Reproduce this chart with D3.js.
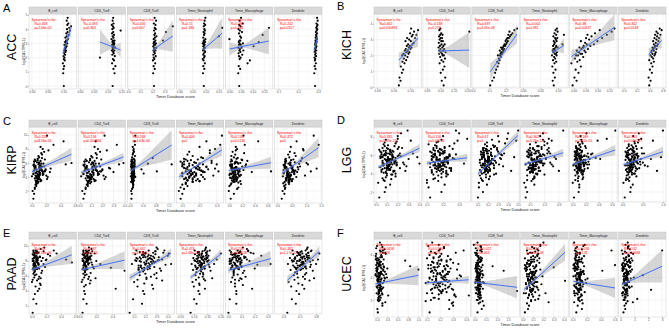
<!DOCTYPE html>
<html>
<head>
<meta charset="utf-8">
<script src="https://cdn.jsdelivr.net/npm/d3@7"></script>
<style>
  body { margin: 0; background: #fff; }
  svg { display: block; font-family: "Liberation Sans", Arial, sans-serif; }
</style>
</head>
<body>
<svg id="figure" width="669" height="328"></svg>
<script>
// shared facet titles and axis titles
const cellTypes = ["B_cell", "CD4_Tcell", "CD8_Tcell", "Timer_Neutrophil", "Timer_Macrophage", "Dendritic"];
const yTitle = "log2(CA1 TPM+1)";
const xTitle = "Timer Database score";

// ---------- ACC ----------
const accExpr = [0.0, 0.9, 1.2, 1.4, 1.6, 1.8, 1.9, 2.0, 2.1, 2.2,
  2.3, 2.4, 2.5, 2.5, 2.6, 2.7, 2.7, 2.8, 2.9, 2.9,
  3.0, 3.0, 3.1, 3.1, 3.2, 3.2, 3.3, 3.4, 3.5, 3.6,
  3.7, 3.8, 3.9, 4.0, 4.1, 4.2, 4.3, 4.4, 4.6, 4.8];
const accScore = [
  [.101, .099, .100, .102, .098, .104, .101, .103, .100, .105, .102, .106, .103, .108, .104, .107, .105, .110, .106, .103,
   .109, .112, .107, .105, .111, .108, .114, .106, .110, .116, .109, .113, .120, .111, .118, .124, .112, .115, .110, .113],
  [.118, .125, .121, .128, .116, .123, .119, .072, .126, .117, .122, .120, .124, .115, .119, .127, .118, .121, .123, .116,
   .120, .124, .117, .122, .119, .125, .114, .121, .118, .123, .116, .120, .147, .117, .122, .119, .115, .121, .118, .120],
  [.212, .205, .218, .209, .222, .203, .215, .210, .226, .207, .219, .213, .208, .224, .216, .211, .230, .206, .220, .214,
   .209, .228, .217, .212, .223, .286, .210, .219, .232, .215, .221, .310, .213, .226, .218, .366, .224, .211, .229, .217],
  [.093, .090, .095, .091, .097, .092, .089, .094, .096, .091, .093, .098, .090, .095, .092, .094, .097, .091, .093, .096,
   .089, .094, .098, .092, .095, .093, .099, .091, .150, .094, .096, .092, .097, .095, .163, .093, .098, .094, .096, .099],
  [.042, .038, .046, .040, .078, .088, .044, .048, .041, .055, .039, .047, .043, .060, .045, .038, .052, .104, .041, .049,
   .044, .058, .040, .126, .047, .043, .000, .050, .046, .143, .041, .054, .045, .039, .170, .048, .042, .057, .044, .050],
  [.285, .281, .287, .283, .289, .284, .286, .282, .290, .285, .288, .283, .291, .286, .284, .289, .287, .292, .285, .288,
   .290, .286, .293, .289, .287, .291, .294, .288, .292, .290, .295, .289, .293, .296, .291, .294, .297, .292, .298, .295]
];
const accXDomain = [[-0.009, 0.141], [-0.007, 0.165], [-0.008, 0.382], [-0.0115, 0.169], [-0.0174, 0.187], [0.08, 0.32]];
const accXTicks = [[0, .05, .1], [0, .05, .1, .15], [0, .1, .2, .3], [0, .05, .1, .15], [0, .05, .1, .15], [.1, .2, .3]];
const accYDomain = [-0.21, 5.07];
const accYTicks = [0, 1, 2, 3, 4, 5];
const accRho = ["0.458", "-0.093", "0.056", "0.15", "0.083", "0.242"];
const accP = ["2.66e-05", "0.363", "0.607", "0.186", "0.468", "0.0317"];
const accFit = [[2.3, 4.1], [3.1, 2.54], [2.54, 3.52], [2.54, 3.73], [2.6, 3.17], [2.54, 3.45]];
const accBand = [[0.15, 0.6], [0.15, 0.9], [0.15, 1.1], [0.15, 1.1], [0.12, 0.95], [0.2, 0.5]];

// ---------- KICH ----------
const kichExpr = [0.1, 0.4, 0.6, 0.9, 1.1, 1.3, 1.5, 1.6, 1.7, 1.8,
  1.9, 2.0, 2.0, 2.1, 2.1, 2.2, 2.2, 2.3, 2.3, 2.4,
  2.4, 2.5, 2.5, 2.6, 2.6, 2.7, 2.7, 2.8, 2.9, 2.9,
  3.0, 3.1, 3.1, 3.2, 3.3, 3.3, 3.4, 3.5, 3.6, 3.7];
const kichScore = [
  [.066, .071, .068, .075, .079, .072, .083, .077, .088, .081, .092, .076, .085, .095, .080, .089, .098, .084, .093, .101,
   .087, .096, .104, .090, .099, .107, .094, .111, .086, .102, .097, .115, .091, .105, .108, .119, .100, .112, .124, .103],
  [.112, .105, .118, .101, .109, .115, .097, .111, .104, .117, .099, .108, .113, .095, .106, .119, .102, .110, .096, .114,
   .100, .107, .093, .111, .098, .104, .116, .094, .103, .109, .097, .101, .106, .095, .108, .099, .103, .208, .096, .100],
  [.105, .118, .128, .135, .141, .150, .156, .148, .162, .158, .170, .165, .152, .175, .168, .180, .172, .163, .185, .177,
   .190, .182, .171, .195, .187, .200, .192, .206, .198, .212, .203, .218, .209, .225, .215, .232, .240, .222, .252, .268],
  [.088, .085, .091, .087, .093, .084, .090, .095, .086, .092, .089, .096, .083, .091, .094, .088, .097, .085, .092, .090,
   .087, .099, .093, .086, .095, .089, .113, .091, .096, .088, .094, .098, .092, .087, .117, .095, .090, .099, .093, .097],
  [-.005, .012, .003, .020, .008, .030, -.010, .015, .025, .005, .040, .018, .010, .035, .028, .050, .022, .013, .045, .032,
   .060, .038, .024, .070, .042, .055, .085, .048, .030, .100, .065, .052, .120, .075, .058, .140, .090, .160, .110, .172],
  [.39, .41, .38, .43, .40, .44, .42, .46, .39, .45, .43, .47, .41, .48, .44, .42, .49, .46, .43, .50,
   .45, .47, .44, .51, .48, .46, .52, .49, .45, .53, .50, .47, .54, .51, .48, .56, .52, .50, .58, .55]
];
const kichXDomain = [[-0.0094, 0.134], [0.0346, 0.2115], [-0.006, 0.281], [-0.006, 0.129], [-0.017, 0.183], [-0.077, 0.646]];
const kichXTicks = [[0, .05, .1], [.05, .1, .15, .2], [0, .1, .2], [0, .05, .1], [0, .05, .1, .15], [0, .2, .4, .6]];
const kichYDomain = [-0.06, 4.62];
const kichYTicks = [0, 1, 2, 3, 4];
const kichRho = ["0.402", "-0.138", "0.637", "-0.002", "0.38", "0.302"];
const kichP = ["0.000893", "0.274", "4.09e-08", "0.981", "0.00167", "0.0148"];
const kichFit = [[1.7, 3.1], [2.28, 2.34], [0.96, 3.36], [2.18, 2.62], [1.93, 3.78], [2.06, 2.95]];
const kichBand = [[0.15, 0.55], [0.15, 1.14], [0.18, 0.6], [0.12, 0.5], [0.14, 0.82], [0.15, 0.5]];

// ---------- KIRP ----------
const kirpExpr = [0.9, 4.6, 2.0, 5.3, 3.1, 6.2, 2.7, 4.1, 3.7, 5.6,
  1.6, 3.9, 5.0, 2.5, 4.4, 6.6, 3.3, 4.8, 2.9, 5.9,
  3.5, 2.3, 4.3, 5.4, 3.0, 4.9, 6.0, 3.8, 7.2, 4.2,
  4.0, 5.7, 3.2, 4.5, 6.4, 3.6, 5.1, 4.7, 7.6, 3.4,
  4.6, 3.9, 5.5, 4.1, 6.8, 5.0, 3.5, 5.8, 4.4, 8.3,
  5.2, 4.3, 6.1, 3.7, 5.6, 7.0, 4.8, 5.3, 9.1, 4.5,
  4.9, 6.5, 5.4, 4.0, 7.4, 5.9, 4.7, 6.3, 5.1, 8.0,
  5.5, 4.2, 6.7, 5.8, 7.8, 4.8, 6.0, 9.9, 5.2, 8.6,
  5.2, 3.6, 4.5, 6.0, 3.9, 5.5, 4.2, 6.3, 3.4, 4.8,
  5.8, 4.0, 5.1, 3.7, 6.5, 4.4, 5.3, 3.5, 4.9, 5.7,
  4.1, 6.1, 3.8, 5.0, 4.6, 3.3, 5.4, 4.3, 6.2, 4.7];
const kirpScore = [
  [.02, .05, .01, .04, .08, .03, .06, .00, .09, .05, .03, .07, .11, .04, .02, .08, .06, .10, .05, .13,
   .07, .04, .09, .12, .06, .03, .10, .08, .14, .05, .09, .11, .06, .15, .08, .12, .04, .10, .17, .07,
   .11, .08, .14, .06, .10, .19, .13, .09, .16, .12, .10, .15, .07, .21, .12, .09, .17, .13, .44, .11,
   .14, .18, .10, .22, .13, .16, .25, .12, .19, .15, .17, .20, .14, .47, .23, .18, .55, .21, .26, .30,
   .04, .08, .02, .10, .06, .03, .09, .05, .12, .07, .03, .10, .06, .11, .04, .08, .12, .05, .14, .02,
   .07, .10, .04, .13, .06, .09, .05, .11, .03, .15],
  [.03, .06, .02, .05, .09, .04, .07, .01, .10, .06, .04, .08, .12, .05, .03, .09, .07, .11, .06, .14,
   .08, .05, .10, .13, .07, .04, .11, .09, .15, .06, .10, .12, .07, .16, .09, .13, .05, .11, .18, .08,
   .12, .09, .15, .07, .11, .20, .14, .10, .17, .13, .11, .16, .08, .22, .13, .10, .18, .26, .14, .12,
   .15, .19, .11, .23, .14, .17, .30, .13, .20, .16, .18, .21, .15, .35, .24, .19, .39, .22, .27, .33,
   .05, .09, .03, .12, .07, .04, .10, .06, .13, .08, .04, .11, .07, .12, .05, .09, .14, .06, .15, .03,
   .08, .11, .05, .14, .07, .10, .06, .12, .04, .16],
  [.04, .07, .03, .06, .08, .05, .09, .02, .06, .10, .05, .08, .04, .09, .07, .11, .03, .06, .10, .05,
   .08, .06, .12, .04, .09, .07, .05, .11, .08, .06, .10, .07, .09, .13, .05, .08, .11, .06, .12, .09,
   .07, .11, .08, .14, .06, .10, .12, 1.29, .09, .08, .12, .09, .13, .07, .11, .15, .10, .08, .14, .42,
   .10, .13, .11, .16, .09, .55, .12, .14, .35, .11, .15, .12, .70, .14, .10, .83, .13, .16, .12, .15,
   .05, .07, .04, .09, .06, .03, .08, .05, .10, .07, .04, .08, .06, .09, .05, .07, .10, .06, .11, .04,
   .06, .09, .05, .10, .07, .08, .05, .09, .04, .12],
  [.09, .10, .08, .11, .12, .09, .13, .10, .11, .14, .10, .12, .15, .09, .13, .11, .16, .12, .10, .14,
   .13, .11, .15, .17, .12, .14, .10, .16, .13, .18, .14, .16, .12, .18, .15, .13, .19, .17, .14, .20,
   .16, .14, .19, .17, .21, .15, .18, .22, .16, .20, .18, .21, .17, .23, .19, .16, .22, .20, .24, .18,
   .21, .19, .24, .22, .26, .20, .23, .27, .25, .29, .24, .28, .22, .30, .26, .31, .27, .33, .29, .32,
   .12, .16, .10, .18, .14, .10, .15, .13, .20, .15, .11, .17, .13, .19, .12, .15, .18, .13, .21, .10,
   .14, .17, .12, .20, .14, .16, .13, .18, .11, .22],
  [.02, .05, -.01, .08, .03, .10, .00, .06, .12, .04, .07, .01, .09, .14, .03, .11, .06, .16, .02, .08,
   .05, .12, .00, .10, .18, .04, .13, .07, .09, .15, .11, .03, .14, .06, .20, .08, .12, .35, .05, .17,
   .09, .13, .02, .16, .07, .22, .11, .04, .14, .10, .06, .18, .12, .08, .25, .03, .15, .10, .45, .13,
   .08, .19, .11, .05, .23, .14, .09, .28, .16, .12, .20, .07, .13, .26, .10, .65, .17, .22, .15, .24,
   .03, .07, .01, .09, .05, .02, .08, .04, .11, .06, .02, .09, .05, .10, .03, .07, .11, .04, .13, .01,
   .06, .09, .03, .12, .05, .08, .04, .10, .02, .14],
  [.15, .22, .18, .25, .20, .28, .23, .19, .30, .26, .24, .32, .21, .27, .35, .29, .25, .33, .28, .38,
   .30, .26, .36, .31, .40, .34, .28, .42, .37, .32, .35, .44, .38, .33, .47, .40, .36, .50, .43, .39,
   .42, .37, .52, .45, .41, .55, .48, .44, .58, .46, .50, .45, .60, .53, .48, .63, .56, .52, .66, .58,
   .62, .55, .70, .65, .59, .75, .68, .80, .72, .88, .78, .95, .85, 1.05, .90, 1.15, 1.0, 1.25, 1.35, 1.42,
   .28, .38, .22, .45, .32, .24, .40, .30, .50, .36, .25, .42, .33, .46, .27, .37, .48, .31, .55, .21,
   .35, .44, .29, .52, .34, .41, .30, .47, .26, .58]
];
const kirpXDomain = [[-0.041, 0.62], [-0.018, 0.409], [-0.092, 1.385], [0.065, 0.341], [-0.063, 0.68], [-0.1, 1.535]];
const kirpXTicks = [[0, .2, .4, .6], [0, .1, .2, .3, .4], [0, .4, .8, 1.2], [.1, .2, .3], [0, .2, .4, .6], [0, .5, 1, 1.5]];
const kirpYDomain = [0.29, 11.14];
const kirpYTicks = [2, 4, 6, 8, 10];
const kirpRho = ["0.258", "0.194", "0.268", "0.406", "0.145", "0.472"];
const kirpP = ["8.56e-06", "0.000866", "4.63e-06", "0", "0.0136", "0"];
const kirpFit = [[4.76, 7.25], [4.63, 6.86], [4.9, 8.57], [4.04, 7.86], [4.93, 6.04], [4.5, 8.2]];
const kirpBand = [[0.25, 0.93], [0.2, 0.6], [0.2, 2.1], [0.15, 0.85], [0.18, 0.85], [0.18, 1.4]];

// ---------- LGG ----------
const lggExpr = [1.4, 5.2, 3.0, 6.1, 4.4, 5.7, 2.5, 4.9, 6.6, 3.8,
  4.2, 2.0, 5.5, 4.7, 6.3, 3.5, 5.0, 7.2, 4.0, 5.8,
  3.2, 5.6, 4.5, 6.8, 3.9, 5.1, 4.8, 6.0, 2.8, 5.4,
  5.3, 4.1, 6.4, 3.6, 5.9, 4.6, 7.0, 5.0, 4.3, 6.2,
  4.8, 6.5, 3.4, 5.7, 5.2, 7.4, 4.4, 6.0, 5.5, 3.7,
  5.8, 4.2, 6.1, 5.0, 7.7, 4.7, 5.5, 6.7, 3.9, 5.3,
  6.3, 5.1, 4.5, 6.9, 5.6, 4.0, 7.1, 5.9, 6.4, 4.9,
  5.4, 6.6, 4.6, 7.5, 5.2, 6.1, 8.1, 4.8, 5.7, 6.8,
  6.0, 5.0, 7.3, 5.6, 8.4, 6.2, 4.3, 7.8, 5.8, 8.7,
  3.3, 4.9, 5.3, 4.1, 6.5, 5.6, 7.0, 5.1, 6.2, 7.6,
  5.6, 4.4, 6.1, 5.0, 4.7, 6.5, 5.3, 5.9, 4.3, 5.5,
  6.2, 4.9, 5.2, 6.7, 4.6, 5.8, 5.1, 6.3, 4.5, 5.4,
  6.0, 4.8, 5.7, 4.2, 6.4, 5.0, 5.3, 4.6, 6.8, 5.9,
  4.9, 6.1, 5.5, 4.4, 5.8, 6.6, 5.2, 4.7, 6.0, 5.4];
const lggScore = [
  [.03, .06, .02, .08, .05, .04, .09, .07, .03, .10, .05, .08, .11, .04, .09, .06, .12, .07, .10, .05,
   .08, .12, .06, .10, .14, .07, .11, .09, .13, .06, .10, .07, .13, .09, .15, .11, .08, .12, .16, .10,
   .12, .09, .14, .11, .17, .08, .13, .15, .10, .18, .11, .16, .13, .19, .09, .14, .12, .20, .15, .10,
   .14, .17, .12, .21, .15, .18, .11, .23, .16, .19, .17, .13, .22, .19, .25, .15, .20, .28, .18, .24,
   .21, .26, .18, .30, .23, .34, .27, .20, .38, .29, .07, .10, .12, .09, .15, .13, .17, .40, .22, .32,
   .08, .12, .05, .15, .10, .07, .13, .04, .17, .09, .12, .06, .14, .11, .08, .16, .10, .05, .13, .18,
   .07, .11, .15, .09, .04, .13, .17, .10, .06, .20, .12, .08, .15, .10, .06, .13, .19, .11, .07, .14],
  [.12, .15, .10, .18, .13, .16, .11, .20, .14, .17, .13, .19, .16, .12, .21, .15, .18, .11, .22, .14,
   .17, .13, .20, .16, .23, .12, .19, .15, .21, .18, .14, .22, .17, .19, .13, .24, .16, .20, .18, .15,
   .21, .17, .14, .23, .19, .16, .25, .18, .13, .22, .16, .20, .24, .15, .19, .22, .17, .26, .14, .21,
   .18, .23, .16, .21, .27, .19, .15, .24, .20, .17, .22, .19, .25, .17, .23, .28, .20, .16, .26, .21,
   .24, .18, .27, .22, .30, .20, .25, .35, .23, .28, .10, .15, .19, .13, .21, .18, .24, .33, .20, .29,
   .16, .19, .14, .21, .17, .15, .20, .13, .22, .16, .19, .14, .20, .18, .15, .22, .17, .13, .19, .23,
   .15, .18, .21, .16, .12, .20, .22, .17, .14, .24, .18, .15, .21, .17, .14, .19, .23, .18, .15, .20],
  [.10, .12, .11, .13, .12, .14, .11, .13, .15, .12, .13, .15, .12, .14, .16, .13, .15, .17, .14, .16,
   .15, .14, .17, .16, .18, .15, .17, .16, .19, .18, .17, .16, .19, .18, .20, .17, .19, .21, .18, .20,
   .19, .18, .21, .20, .22, .19, .21, .23, .20, .22, .21, .20, .23, .22, .24, .21, .25, .23, .26, .22,
   .23, .25, .22, .26, .24, .28, .25, .27, .30, .26, .27, .29, .26, .31, .28, .33, .30, .35, .32, .29,
   .34, .31, .37, .33, .40, .36, .43, .39, .46, .50, .14, .17, .19, .20, .21, .24, .27, .23, .31, .48,
   .17, .19, .15, .21, .18, .16, .20, .14, .22, .17, .19, .15, .20, .18, .16, .21, .17, .14, .19, .23,
   .16, .18, .21, .17, .13, .20, .22, .18, .15, .24, .19, .16, .21, .17, .15, .19, .23, .18, .16, .20],
  [.07, .09, .06, .10, .08, .11, .07, .12, .09, .08, .10, .08, .12, .09, .11, .13, .07, .10, .14, .09,
   .11, .13, .09, .12, .15, .10, .14, .11, .13, .16, .12, .10, .14, .13, .16, .11, .15, .12, .17, .14,
   .13, .16, .12, .15, .18, .14, .11, .17, .15, .13, .15, .12, .17, .14, .19, .16, .13, .18, .20, .15,
   .16, .19, .14, .18, .21, .15, .20, .17, .23, .19, .18, .22, .16, .20, .24, .19, .17, .26, .21, .23,
   .20, .25, .22, .28, .19, .24, .30, .23, .27, .33, .08, .11, .13, .12, .15, .17, .16, .20, .22, .25,
   .11, .13, .09, .15, .12, .10, .14, .08, .16, .11, .13, .10, .14, .12, .10, .15, .12, .09, .13, .17,
   .10, .12, .15, .11, .08, .14, .16, .12, .10, .18, .13, .11, .15, .12, .09, .13, .17, .12, .10, .14],
  [.02, .05, .00, .08, .03, .06, .10, .01, .07, .04, .06, .09, .03, .12, .05, .08, .02, .11, .07, .14,
   .08, .04, .11, .06, .15, .09, .05, .13, .10, .07, .10, .13, .07, .16, .09, .12, .05, .18, .11, .08,
   .12, .06, .15, .10, .20, .08, .14, .11, .17, .09, .11, .16, .08, .22, .13, .10, .19, .07, .15, .24,
   .13, .09, .18, .12, .26, .15, .10, .21, .14, .17, .16, .11, .23, .14, .19, .28, .12, .17, .35, .20,
   .18, .25, .15, .42, .21, .30, .17, .52, .24, .65, .04, .09, .12, .08, .14, .11, .19, .16, .23, .38,
   .07, .10, .04, .13, .08, .06, .11, .03, .14, .07, .10, .05, .12, .09, .06, .13, .08, .04, .11, .16,
   .06, .09, .12, .07, .03, .11, .15, .08, .05, .17, .10, .06, .13, .08, .05, .11, .16, .09, .06, .12],
  [.05, .12, .02, .18, .08, .14, .20, .06, .16, .10, .11, .19, .07, .24, .13, .09, .21, .15, .28, .12,
   .16, .22, .10, .27, .14, .19, .31, .12, .25, .18, .20, .14, .29, .17, .23, .33, .15, .26, .21, .36,
   .18, .25, .13, .30, .22, .38, .16, .27, .20, .34, .24, .17, .31, .21, .40, .26, .19, .35, .23, .43,
   .27, .20, .36, .25, .45, .30, .22, .39, .28, .55, .31, .24, .41, .29, .50, .34, .26, .62, .37, .47,
   .35, .44, .30, .70, .40, .53, .85, .46, .95, 1.0, .08, .15, .19, .23, .26, .29, .33, .38, .48, .75,
   .15, .22, .10, .28, .18, .13, .25, .08, .32, .16, .23, .11, .27, .20, .14, .30, .18, .09, .24, .35,
   .12, .21, .29, .17, .07, .26, .33, .19, .11, .38, .22, .14, .28, .18, .10, .24, .36, .20, .13, .27]
];
const lggXDomain = [[-0.0185, 0.417], [0.075, 0.369], [0.04, 0.51], [0.036, 0.364], [-0.046, 0.677], [-0.1, 1.075]];
const lggXTicks = [[0, .1, .2, .3, .4], [.1, .2, .3], [.1, .2, .3, .4, .5], [.1, .2, .3], [0, .2, .4, .6], [0, .5, 1]];
const lggYDomain = [0.91, 9.09];
const lggYTicks = [2, 4, 6, 8];
const lggRho = ["0.335", "0.118", "0.47", "0.302", "0.189", "0.163"];
const lggP = ["5.39e-15", "0.00716", "0", "3.29e-12", "1.62e-05", "0.000207"];
const lggFit = [[4.7, 6.77], [5.15, 5.74], [3.98, 8.2], [5.02, 6.28], [5.02, 6.58], [4.98, 6.4]];
const lggBand = [[0.12, 0.45], [0.12, 0.45], [0.12, 0.55], [0.12, 0.45], [0.12, 0.55], [0.12, 0.55]];

// ---------- PAAD ----------
const paadExpr = [1.1, 7.6, 5.2, 8.4, 2.9, 6.8, 8.9, 4.6, 7.2, 9.4,
  6.1, 8.1, 2.3, 7.4, 8.7, 5.5, 7.9, 9.1, 6.5, 4.0,
  7.0, 5.8, 8.3, 3.6, 7.7, 9.2, 6.3, 8.5, 7.3, 5.0,
  8.0, 6.6, 7.5, 9.0, 4.8, 8.2, 7.1, 5.9, 8.8, 7.8,
  6.9, 8.6, 7.4, 5.6, 9.3, 7.9, 6.4, 8.3, 4.3, 8.1,
  7.7, 9.6, 6.2, 8.4, 7.0, 8.9, 5.4, 8.0, 9.8, 7.5,
  8.5, 7.2, 9.1, 6.7, 8.7, 5.7, 9.4, 7.6, 8.2, 9.0,
  8.5, 7.2, 8.0, 9.1, 7.6, 8.8, 7.0, 8.3, 9.3, 7.8,
  8.6, 7.4, 8.2, 9.0, 6.9, 8.4, 7.7, 8.9, 7.3, 8.1,
  9.2, 7.5, 8.7, 6.8, 8.0, 9.4, 7.9, 8.5, 7.1, 8.3];
const paadScore = [
  [.01, .02, .00, .03, .02, .04, .01, .05, .03, .02, .04, .02, .06, .03, .05, .01, .07, .04, .03, .08,
   .05, .03, .07, .04, .09, .06, .02, .08, .05, .11, .06, .04, .09, .07, .12, .47, .08, .10, .03, .55,
   .07, .11, .05, .09, .16, .06, .13, .08, .10, .19, .08, .12, .06, .15, .10, .22, .07, .13, .17, .09,
   .11, .18, .09, .14, .25, .12, .30, .16, .20, .34,
   .03, .05, .02, .06, .04, .02, .05, .01, .07, .03, .05, .02, .06, .04, .01, .07, .04, .03, .05, .08,
   .02, .04, .06, .03, .01, .05, .07, .04, .02, .06],
  [.03, .05, .02, .06, .04, .07, .03, .05, .08, .04, .06, .04, .08, .05, .09, .03, .07, .10, .06, .05,
   .07, .05, .09, .06, .11, .08, .04, .10, .07, .12, .08, .06, .10, .13, .07, .09, .38, .11, .05, .14,
   .09, .12, .07, .10, .15, .08, .13, .11, .44, .10, .10, .14, .08, .12, .17, .09, .13, .20, .11, .15,
   .12, .16, .10, .55, .14, .19, .11, .25, .13, .18,
   .05, .07, .04, .08, .06, .04, .07, .03, .09, .05, .07, .04, .08, .06, .03, .09, .06, .05, .07, .10,
   .04, .06, .08, .05, .03, .07, .09, .06, .04, .08],
  [.06, .08, .10, .12, .09, .14, .11, .13, .16, .12, .15, .11, .17, .14, .19, .13, .16, .20, .15, .18,
   .17, .21, .16, .19, .23, .18, .20, .15, .22, .19, .21, .18, .24, .20, .26, .22, .19, .25, .23, .28,
   .22, .27, .24, .21, .29, .25, .30, .23, .27, .32, .26, .31, .28, .24, .33, .29, .35, .27, .30, .38,
   .32, .28, .36, .34, .40, .30, .37, .43, .35, .41,
   .18, .23, .15, .27, .20, .17, .24, .13, .29, .19, .22, .16, .26, .20, .14, .28, .21, .18, .24, .31,
   .15, .20, .25, .19, .12, .23, .29, .20, .14, .25],
  [.088, .092, .095, .098, .101, .097, .104, .100, .107, .103, .106, .102, .110, .105, .113, .108, .111, .115, .109, .117,
   .112, .118, .114, .121, .116, .119, .123, .117, .125, .120, .122, .127, .124, .129, .121, .131, .126, .133, .128, .124,
   .130, .135, .127, .137, .132, .139, .134, .129, .141, .136, .138, .143, .135, .146, .140, .148, .142, .151, .145, .155,
   .150, .158, .147, .162, .154, .168, .159, .175, .185, .200,
   .125, .135, .115, .145, .130, .120, .140, .110, .150, .125, .135, .120, .145, .130, .110, .150, .130, .120, .140, .155,
   .115, .130, .145, .125, .105, .140, .150, .130, .115, .140],
  [.00, .01, .02, .03, .01, .04, .02, .05, .03, .01, .04, .02, .06, .03, .07, .05, .01, .08, .04, .06,
   .05, .03, .08, .06, .02, .09, .04, .07, .10, .05, .07, .04, .09, .06, .11, .03, .08, .13, .05, .10,
   .08, .12, .06, .10, .15, .07, .11, .09, .18, .06, .09, .14, .07, .12, .20, .10, .08, .16, .11, .22,
   .13, .10, .17, .12, .25, .09, .15, .32, .14, .19,
   .04, .06, .02, .08, .05, .03, .07, .01, .09, .04, .06, .03, .08, .05, .02, .09, .05, .04, .07, .10,
   .02, .05, .08, .04, .01, .07, .09, .05, .02, .06],
  [.31, .32, .33, .35, .38, .36, .40, .37, .42, .39, .41, .38, .44, .40, .46, .42, .39, .48, .43, .45,
   .44, .47, .42, .49, .45, .51, .46, .43, .50, .48, .49, .46, .52, .48, .54, .50, .47, .55, .51, .53,
   .52, .56, .50, .58, .53, .55, .60, .54, .57, .51, .56, .61, .58, .63, .55, .60, .65, .59, .62, .67,
   .61, .66, .63, .70, .64, .72, .68, .75, .78, .80,
   .52, .58, .46, .63, .55, .49, .60, .43, .67, .53, .57, .47, .62, .54, .45, .65, .56, .50, .59, .70,
   .46, .54, .61, .51, .41, .59, .66, .54, .44, .58]
];
const paadXDomain = [[-0.041, 0.614], [-0.025, 0.5625], [0.038, 0.462], [0.035, 0.211], [-0.023, 0.338], [0.114, 0.841]];
const paadXTicks = [[0, .2, .4, .6], [0, .2, .4], [.1, .2, .3, .4], [.05, .1, .15, .2], [0, .1, .2, .3], [.25, .5, .75]];
const paadYDomain = [0.93, 10.93];
const paadYTicks = [2, 4, 6, 8, 10];
const paadRho = ["0.33", "0.187", "0.462", "0.476", "0.203", "0.482"];
const paadP = ["7.58e-06", "0.0124", "4.88e-11", "1.68e-11", "0.00628", "1.17e-11"];
const paadFit = [[6.84, 8.82], [6.84, 8.11], [5.73, 9.07], [5.8, 8.93], [6.76, 8.31], [5.43, 9.29]];
const paadBand = [[0.2, 1.2], [0.2, 1.2], [0.18, 0.6], [0.18, 0.6], [0.2, 1.05], [0.18, 0.7]];

// ---------- UCEC ----------
const ucecExpr = [0.9, 4.3, 2.6, 5.5, 3.4, 6.1, 1.9, 4.8, 3.8, 5.2,
  2.2, 5.0, 3.6, 1.5, 4.5, 6.4, 3.1, 5.7, 2.8, 4.1,
  4.7, 3.0, 5.9, 2.4, 4.0, 1.2, 5.3, 3.5, 6.6, 4.4,
  3.3, 5.6, 2.0, 4.6, 3.9, 6.2, 2.7, 5.1, 4.2, 1.7,
  5.4, 3.7, 4.9, 2.3, 6.0, 4.3, 3.2, 5.8, 2.9, 4.6,
  3.9, 6.3, 4.5, 2.1, 5.2, 3.6, 4.8, 6.8, 3.0, 5.5,
  4.4, 2.5, 5.7, 3.8, 6.5, 4.1, 2.9, 5.0, 3.4, 6.1,
  5.9, 3.5, 4.7, 7.1, 4.0, 5.3, 2.6, 6.4, 4.9, 3.7,
  2.2, 4.5, 5.6, 3.1, 6.2, 3.9, 5.1, 4.3, 2.4, 5.8,
  4.8, 3.3, 6.7, 2.0, 5.4, 4.2, 3.6, 5.0, 6.9, 1.8,
  3.9, 2.7, 4.6, 3.3, 5.2, 4.1, 2.9, 4.8, 3.6, 5.5,
  4.4, 3.1, 3.8, 5.0, 2.6, 4.3, 3.5, 5.3, 4.0, 3.2,
  4.7, 2.8, 4.2, 3.7, 5.1, 3.4, 4.5, 2.5, 4.9, 3.0,
  5.6, 3.8, 4.1, 2.9, 4.6, 3.5, 5.4, 4.3, 3.1, 4.0];
const ucecScore = [
  [.02, -.03, .05, .00, .08, -.02, .04, .11, .01, .06, .09, .80, .03, .13, .00, .07, .15, .02, .10, -.01,
   1.0, .12, -.03, .08, .18, .01, .06, .14, -.02, .09, .03, .16, .07, .00, .11, .20, .04, .09, -.04, .13,
   .08, .01, .17, .05, .10, .22, -.01, .12, .06, .15, .02, .09, .19, .04, .14, .07, .25, .00, .11, .68,
   .06, .13, -.02, .10, .18, .03, .08, .16, .05, .21, .11, .04, .15, .07, .24, .01, .12, .14, .09, .17,
   .03, .10, -.03, .07, .14, .19, .05, .12, .27, .08, .01, .06, .13, .02, .09, .16, .07, .04, .11, .20,
   .02, .05, -.01, .07, .03, .00, .06, -.02, .09, .03, .04, .01, .07, .04, -.01, .08, .03, .00, .05, .10,
   .01, .04, .07, .02, -.02, .06, .09, .03, .00, .08, .05, .02, .06, .04, -.01, .05, .08, .03, .01, .06],
  [.12, .18, .10, .25, .15, .21, .09, .28, .14, .20, .16, .23, .11, .30, .13, .19, .26, .10, .22, .17,
   .24, .14, .20, .31, .12, .27, .18, .09, .23, .15, .19, .28, .13, .22, .33, .16, .25, .11, .21, .29,
   .14, .24, .18, .32, .12, .26, .20, .15, .30, .17, .22, .13, .27, .19, .34, .16, .24, .11, .29, .21,
   .18, .31, .15, .25, .20, .36, .13, .23, .28, .17, .26, .19, .33, .14, .24, .30, .21, .38, .16, .27,
   .15, .22, .28, .18, .32, .12, .25, .20, .42, .19, .11, .17, .23, .27, .14, .35, .21, .26, .19, .30,
   .17, .21, .14, .24, .18, .15, .22, .13, .26, .19, .20, .16, .23, .19, .14, .25, .18, .15, .21, .27,
   .16, .20, .24, .17, .13, .22, .26, .19, .15, .24, .21, .17, .23, .19, .14, .20, .25, .18, .16, .22],
  [.12, .25, .05, .30, .18, .08, .35, .15, .22, .10, .28, .06, .20, .40, .13, .24, .03, .32, 1.9, .09,
   .21, .36, .11, .26, .07, .31, .16, .42, .04, .19, .14, .27, .09, .33, .20, .01, .24, .12, .38, .17,
   .23, .10, .29, .15, .05, .34, .19, .26, .08, 1.3, .18, .31, .07, .22, .13, .37, .02, .25, .16, .28,
   .11, .24, .19, .04, .30, .14, .21, .80, .27, .09, .16, .02, .23, .12, .33, .07, .20, .10, .05, .13,
   .20, .09, .26, .14, .06, .18, .35, .11, .23, .15, .08, .17, .28, .13, .21, .20, .04, .19, -.05, .24,
   .12, .18, .08, .22, .14, .10, .20, .06, .25, .13, .16, .09, .21, .15, .07, .24, .13, .10, .19, .27,
   .09, .16, .22, .12, .05, .20, .26, .14, .08, .23, .17, .11, .21, .15, .06, .18, .25, .13, .10, .19],
  [.02, .04, .01, .06, .03, .05, .08, .02, .07, .04, .05, .03, .08, .06, .10, .04, .07, .02, .09, .06,
   .07, .04, .10, .06, .12, .05, .08, .03, .11, .09, .06, .10, .08, .13, .05, .09, .12, .07, .11, .04,
   .09, .07, .12, .10, .14, .06, .11, .08, .15, .13, .08, .12, .10, .15, .07, .13, .11, .17, .09, .14,
   .12, .09, .16, .11, .14, .19, .10, .13, .18, .15, .14, .11, .17, .20, .13, .16, .22, .15, .30, .41,
   .05, .08, .11, .14, .07, .10, .13, .09, .16, .12, .03, .06, .09, .12, .08, .11, .14, .10, .17, .25,
   .05, .08, .03, .10, .06, .04, .09, .02, .12, .05, .07, .04, .10, .06, .03, .11, .06, .04, .08, .13,
   .04, .07, .10, .05, .02, .09, .12, .06, .04, .10, .08, .05, .09, .07, .03, .08, .11, .06, .04, .09],
  [.05, .12, .02, .08, .15, .04, .10, .01, .18, .06, .09, .03, .14, .07, .11, .55, .05, .13, .02, .08,
   .11, .06, .16, .03, .09, .13, .07, .19, .04, .10, .02, .12, .08, .15, .05, .10, .17, .01, .09, .14,
   .07, .13, .04, .11, .06, .16, .03, .09, .12, .42, .10, .05, .14, .08, .02, .11, .06, .15, .09, .04,
   .06, .12, .03, .09, .13, .01, .08, .16, .05, .10, .04, .11, .07, .02, .10, .14, .06, .03, .08, .12,
   .08, .15, .04, .11, .07, .21, .60, .09, .13, .05, .03, .09, .06, .13, .10, .04, .12, .07, .17, .02,
   .06, .09, .03, .11, .07, .04, .10, .02, .13, .06, .08, .05, .11, .07, .03, .12, .06, .04, .09, .14,
   .05, .08, .11, .06, .02, .10, .13, .07, .04, .11, .09, .06, .10, .07, .03, .08, .12, .06, .05, .09],
  [.20, .45, .10, .60, .30, .15, .50, .25, .38, .12, .35, .18, .55, .28, .42, .08, .65, .22, .48, .32,
   .40, .26, .58, .14, .47, .33, .70, .19, .52, .29, .31, .62, .21, .44, .36, .75, .17, .53, 1.6, .39,
   .46, .27, .63, .34, .56, .23, .80, .41, .37, .68, .50, .30, .72, 1.2, .43, .61, .25, .57, .45, .85,
   .54, .38, .77, .49, .66, .32, 2.2, .59, .44, .90, .60, .43, .82, .51, .95, .70, .48, 3.0, .64, .55,
   .28, .47, .36, .62, .41, .73, .33, .58, .51, .40, .16, .39, .52, .29, .67, .46, .24, .71, .35, .88,
   .25, .38, .15, .45, .30, .20, .42, .12, .52, .28, .35, .18, .44, .32, .14, .50, .27, .19, .40, .58,
   .17, .34, .47, .24, .10, .43, .55, .29, .16, .46, .36, .22, .41, .31, .13, .37, .53, .26, .21, .39]
];
const ucecXDomain = [[-0.073, 1.07], [0.069, 0.431], [-0.136, 2.0], [-0.02, 0.44], [-0.043, 0.629], [-0.146, 3.28]];
const ucecXTicks = [[0, .25, .5, .75, 1], [.1, .2, .3, .4], [0, .5, 1, 1.5], [0, .1, .2, .3, .4], [0, .2, .4, .6], [0, 1, 2, 3]];
const ucecYDomain = [0.49, 7.42];
const ucecYTicks = [2, 4, 6];
const ucecRho = ["0.0458", "0.0746", "-0.022", "0.227", "-0.058", "0.102"];
const ucecP = ["0.28", "0.076", "0.603", "9.66e-08", "0.178", "0.00668"];
const ucecFit = [[3.42, 4.2], [3.51, 3.8], [3.6, 3.13], [2.91, 6.24], [3.66, 3.07], [3.36, 5.0]];
const ucecBand = [[0.12, 0.9], [0.12, 0.35], [0.12, 1.0], [0.15, 0.75], [0.12, 0.9], [0.15, 1.45]];

// page layout: one block of six facets per cancer type
const panels = [
  { tag: "A", name: "ACC", left: 29, right: 322, top: 7, bottom: 89, ylabX: 25, tagX: 3, tagY: 12, nameX: 16, nameY: 47,
    expr: accExpr, score: accScore, xDomain: accXDomain, xTicks: accXTicks, yDomain: accYDomain, yTicks: accYTicks,
    rho: accRho, p: accP, fit: accFit, band: accBand },
  { tag: "B", name: "KICH", left: 374, right: 666, top: 7, bottom: 88, ylabX: 365, tagX: 337, tagY: 10, nameX: 351, nameY: 45,
    expr: kichExpr, score: kichScore, xDomain: kichXDomain, xTicks: kichXTicks, yDomain: kichYDomain, yTicks: kichYTicks,
    rho: kichRho, p: kichP, fit: kichFit, band: kichBand },
  { tag: "C", name: "KIRP", left: 29, right: 322, top: 120, bottom: 203, ylabX: 25, tagX: 3, tagY: 125, nameX: 16, nameY: 160,
    expr: kirpExpr, score: kirpScore, xDomain: kirpXDomain, xTicks: kirpXTicks, yDomain: kirpYDomain, yTicks: kirpYTicks,
    rho: kirpRho, p: kirpP, fit: kirpFit, band: kirpBand },
  { tag: "D", name: "LGG", left: 374, right: 666, top: 120, bottom: 202, ylabX: 365, tagX: 337, tagY: 124, nameX: 351, nameY: 160,
    expr: lggExpr, score: lggScore, xDomain: lggXDomain, xTicks: lggXTicks, yDomain: lggYDomain, yTicks: lggYTicks,
    rho: lggRho, p: lggP, fit: lggFit, band: lggBand },
  { tag: "E", name: "PAAD", left: 29, right: 322, top: 232, bottom: 314, ylabX: 25, tagX: 3, tagY: 237, nameX: 16, nameY: 274,
    expr: paadExpr, score: paadScore, xDomain: paadXDomain, xTicks: paadXTicks, yDomain: paadYDomain, yTicks: paadYTicks,
    rho: paadRho, p: paadP, fit: paadFit, band: paadBand },
  { tag: "F", name: "UCEC", left: 374, right: 666, top: 232, bottom: 317, ylabX: 365, tagX: 337, tagY: 237, nameX: 351, nameY: 274,
    expr: ucecExpr, score: ucecScore, xDomain: ucecXDomain, xTicks: ucecXTicks, yDomain: ucecYDomain, yTicks: ucecYTicks,
    rho: ucecRho, p: ucecP, fit: ucecFit, band: ucecBand }
];

const svg = d3.select("#figure");
const gap = 1.6;
const stripH = 7;

// label precision follows the tick step, like ggplot does
function fmtFor(ticks) {
  return d3.format("." + d3.precisionFixed(ticks[1] - ticks[0]) + "f");
}

// minor grid halfway between major breaks
function minorBreaks(ticks, domain) {
  const step = ticks[1] - ticks[0];
  let t = ticks[0] - step / 2;
  while (t - step >= domain[0]) t -= step;
  const out = [];
  for (; t <= domain[1]; t += step) if (t >= domain[0]) out.push(t);
  return out;
}

function styleAxis(g) {
  g.attr("font-family", null).attr("font-size", null);
  g.select(".domain").remove();
  g.selectAll("line").attr("stroke", "#333").attr("stroke-width", 0.3);
  g.selectAll("text").attr("font-size", 3.1).attr("fill", "#4d4d4d");
}

panels.forEach((pn, pi) => {
  const g = svg.append("g");
  const plotTop = pn.top + stripH;
  const fw = (pn.right - pn.left - 5 * gap) / 6;
  const y = d3.scaleLinear(pn.yDomain, [pn.bottom, plotTop]);
  const yMinor = minorBreaks(pn.yTicks, pn.yDomain);

  g.append("text").attr("x", pn.tagX).attr("y", pn.tagY)
    .attr("font-size", 11).attr("fill", "#000").text(pn.tag);
  g.append("text")
    .attr("transform", `translate(${pn.nameX},${pn.nameY}) rotate(-90)`)
    .attr("text-anchor", "middle").attr("font-size", 12.5).attr("fill", "#000").text(pn.name);

  g.append("text")
    .attr("transform", `translate(${pn.ylabX},${(plotTop + pn.bottom) / 2}) rotate(-90)`)
    .attr("text-anchor", "middle").attr("font-size", 3.3).attr("fill", "#222").text(yTitle);
  g.append("text")
    .attr("x", (pn.left + pn.right) / 2).attr("y", pn.bottom + 9.3)
    .attr("text-anchor", "middle").attr("font-size", 4).attr("fill", "#222").text(xTitle);

  cellTypes.forEach((cell, i) => {
    const x0 = pn.left + i * (fw + gap);
    const x = d3.scaleLinear(pn.xDomain[i], [x0, x0 + fw]);
    const xs = pn.score[i];
    const f = g.append("g");
    const clipId = `clip-${pi}-${i}`;

    f.append("clipPath").attr("id", clipId).append("rect")
      .attr("x", x0).attr("y", plotTop).attr("width", fw).attr("height", pn.bottom - plotTop);

    f.append("rect")
      .attr("x", x0).attr("y", plotTop).attr("width", fw).attr("height", pn.bottom - plotTop)
      .attr("fill", "#fff");

    // grid
    const grid = f.append("g");
    minorBreaks(pn.xTicks[i], pn.xDomain[i]).forEach(v => {
      grid.append("line").attr("x1", x(v)).attr("x2", x(v)).attr("y1", plotTop).attr("y2", pn.bottom)
        .attr("stroke", "#f2f2f2").attr("stroke-width", 0.3);
    });
    yMinor.forEach(v => {
      grid.append("line").attr("x1", x0).attr("x2", x0 + fw).attr("y1", y(v)).attr("y2", y(v))
        .attr("stroke", "#f2f2f2").attr("stroke-width", 0.3);
    });
    pn.xTicks[i].forEach(v => {
      grid.append("line").attr("x1", x(v)).attr("x2", x(v)).attr("y1", plotTop).attr("y2", pn.bottom)
        .attr("stroke", "#e6e6e6").attr("stroke-width", 0.45);
    });
    pn.yTicks.forEach(v => {
      grid.append("line").attr("x1", x0).attr("x2", x0 + fw).attr("y1", y(v)).attr("y2", y(v))
        .attr("stroke", "#e6e6e6").attr("stroke-width", 0.45);
    });

    // samples
    f.append("g").selectAll("circle")
      .data(xs.map((v, k) => [v, pn.expr[k]]))
      .join("circle")
      .attr("cx", d => x(d[0])).attr("cy", d => y(d[1])).attr("r", 1.1)
      .attr("fill", "#000");

    // linear fit with confidence band
    const [xmin, xmax] = d3.extent(xs);
    const xbar = d3.mean(xs);
    const [ya, yb] = pn.fit[i];
    const [mid, far] = pn.band[i];
    const reach = Math.max(xbar - xmin, xmax - xbar);
    const spread = Math.sqrt(Math.max(far * far - mid * mid, 0)) / reach;
    const fitAt = v => ya + (yb - ya) * (v - xmin) / (xmax - xmin);
    const half = v => Math.sqrt(mid * mid + (spread * (v - xbar)) ** 2);
    const along = d3.range(61).map(k => xmin + (xmax - xmin) * k / 60);

    f.append("path").datum(along)
      .attr("d", d3.area().x(v => x(v)).y0(v => y(fitAt(v) - half(v))).y1(v => y(fitAt(v) + half(v))))
      .attr("fill", "#999").attr("fill-opacity", 0.4)
      .attr("clip-path", `url(#${clipId})`);
    f.append("path").datum([xmin, xmax])
      .attr("d", d3.line().x(v => x(v)).y(v => y(fitAt(v))))
      .attr("fill", "none").attr("stroke", "#3366ff").attr("stroke-width", 0.9)
      .attr("clip-path", `url(#${clipId})`);

    // correlation note
    const tx = x0 + 2.6;
    const ty = plotTop + 7.2;
    const note = f.append("g").attr("fill", "#ff0000").attr("font-size", 3.4);
    note.append("text").attr("x", tx).attr("y", ty).text("Spearman's rho:");
    note.append("text").attr("x", tx + 2.8).attr("y", ty + 4).text("R=" + pn.rho[i]);
    note.append("text").attr("x", tx + 2.8).attr("y", ty + 8).text("p=" + pn.p[i]);

    // panel frame and strip
    f.append("rect")
      .attr("x", x0).attr("y", plotTop).attr("width", fw).attr("height", pn.bottom - plotTop)
      .attr("fill", "none").attr("stroke", "#c4c4c4").attr("stroke-width", 0.4);
    f.append("rect")
      .attr("x", x0).attr("y", pn.top).attr("width", fw).attr("height", stripH)
      .attr("fill", "#d9d9d9").attr("stroke", "#bdbdbd").attr("stroke-width", 0.4);
    f.append("text")
      .attr("x", x0 + fw / 2).attr("y", pn.top + stripH / 2 + 1.2)
      .attr("text-anchor", "middle").attr("font-size", 3.3).attr("fill", "#1a1a1a").text(cell);

    // axes
    f.append("g").attr("transform", `translate(0,${pn.bottom})`)
      .call(d3.axisBottom(x).tickValues(pn.xTicks[i]).tickSize(1.2).tickPadding(0.6).tickFormat(fmtFor(pn.xTicks[i])))
      .call(styleAxis);
    if (i === 0) {
      f.append("g").attr("transform", `translate(${x0},0)`)
        .call(d3.axisLeft(y).tickValues(pn.yTicks).tickSize(1.2).tickPadding(0.6).tickFormat(fmtFor(pn.yTicks)))
        .call(styleAxis);
    }
  });
});
</script>
</body>
</html>
